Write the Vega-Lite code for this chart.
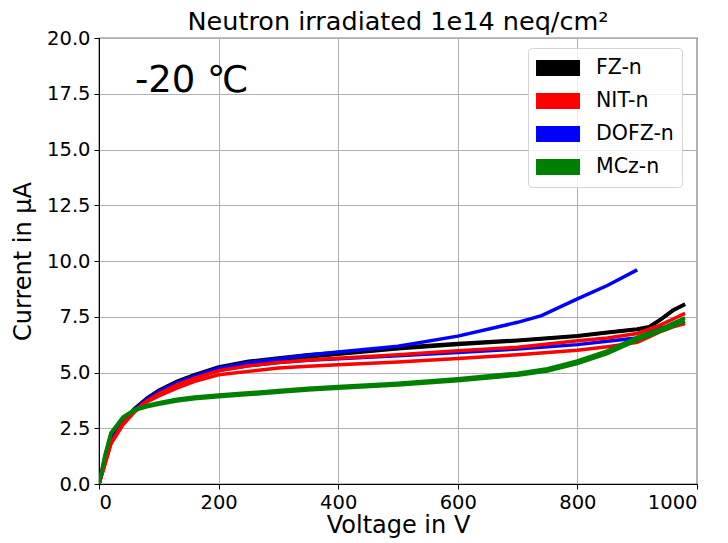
{
  "$schema": "https://vega.github.io/schema/vega-lite/v6.json",
  "width": 598,
  "height": 446,
  "autosize": {"type": "none"},
  "padding": {"left": 99, "top": 38, "right": 31, "bottom": 59},
  "background": "white",
  "config": {
    "font": "DejaVu Sans",
    "view": {"stroke": "black", "strokeWidth": 1.2},
    "axis": {
      "domainColor": "black", "tickColor": "black", "tickSize": 5, "labelPadding": 4,
      "labelFontSize": 19.5, "labelColor": "black", "titleFontSize": 24,
      "titleFontWeight": "normal", "titleColor": "black",
      "gridColor": "#b0b0b0", "gridWidth": 1, "labelFont": "DejaVu Sans", "titleFont": "DejaVu Sans"
    }
  },
  "title": {"text": "Neutron irradiated 1e14 neq/cm²", "fontSize": 25.5, "fontWeight": "normal", "font": "DejaVu Sans", "color": "black", "offset": 3, "dy": 10},
  "layer": [
    {
      "data": {"values": [
        {"s":"FZ-n","r":"FZ1","V":0,"I":0},{"s":"FZ-n","r":"FZ1","V":10,"I":1.1},{"s":"FZ-n","r":"FZ1","V":20,"I":2.0},{"s":"FZ-n","r":"FZ1","V":40,"I":2.85},{"s":"FZ-n","r":"FZ1","V":60,"I":3.4},{"s":"FZ-n","r":"FZ1","V":80,"I":3.85},{"s":"FZ-n","r":"FZ1","V":100,"I":4.2},{"s":"FZ-n","r":"FZ1","V":130,"I":4.6},{"s":"FZ-n","r":"FZ1","V":160,"I":4.9},{"s":"FZ-n","r":"FZ1","V":200,"I":5.25},{"s":"FZ-n","r":"FZ1","V":250,"I":5.5},{"s":"FZ-n","r":"FZ1","V":300,"I":5.65},{"s":"FZ-n","r":"FZ1","V":350,"I":5.8},{"s":"FZ-n","r":"FZ1","V":400,"I":5.9},{"s":"FZ-n","r":"FZ1","V":500,"I":6.12},{"s":"FZ-n","r":"FZ1","V":600,"I":6.3},{"s":"FZ-n","r":"FZ1","V":700,"I":6.45},{"s":"FZ-n","r":"FZ1","V":800,"I":6.65},{"s":"FZ-n","r":"FZ1","V":850,"I":6.8},{"s":"FZ-n","r":"FZ1","V":900,"I":6.95},{"s":"FZ-n","r":"FZ1","V":920,"I":7.05},{"s":"FZ-n","r":"FZ1","V":940,"I":7.4},{"s":"FZ-n","r":"FZ1","V":960,"I":7.8},{"s":"FZ-n","r":"FZ1","V":980,"I":8.07},
        {"s":"FZ-n","r":"FZ2","V":0,"I":0},{"s":"FZ-n","r":"FZ2","V":10,"I":1.05},{"s":"FZ-n","r":"FZ2","V":20,"I":1.95},{"s":"FZ-n","r":"FZ2","V":40,"I":2.8},{"s":"FZ-n","r":"FZ2","V":60,"I":3.35},{"s":"FZ-n","r":"FZ2","V":80,"I":3.78},{"s":"FZ-n","r":"FZ2","V":100,"I":4.12},{"s":"FZ-n","r":"FZ2","V":130,"I":4.52},{"s":"FZ-n","r":"FZ2","V":160,"I":4.82},{"s":"FZ-n","r":"FZ2","V":200,"I":5.16},{"s":"FZ-n","r":"FZ2","V":250,"I":5.4},{"s":"FZ-n","r":"FZ2","V":300,"I":5.56},{"s":"FZ-n","r":"FZ2","V":350,"I":5.7},{"s":"FZ-n","r":"FZ2","V":400,"I":5.82},{"s":"FZ-n","r":"FZ2","V":500,"I":6.06},{"s":"FZ-n","r":"FZ2","V":600,"I":6.26},{"s":"FZ-n","r":"FZ2","V":700,"I":6.42},{"s":"FZ-n","r":"FZ2","V":800,"I":6.63},{"s":"FZ-n","r":"FZ2","V":850,"I":6.78},{"s":"FZ-n","r":"FZ2","V":900,"I":6.93},{"s":"FZ-n","r":"FZ2","V":920,"I":7.03},{"s":"FZ-n","r":"FZ2","V":940,"I":7.38},{"s":"FZ-n","r":"FZ2","V":960,"I":7.78},{"s":"FZ-n","r":"FZ2","V":980,"I":8.05},
        {"s":"DOFZ-n","r":"DO1","V":0,"I":0},{"s":"DOFZ-n","r":"DO1","V":10,"I":1.0},{"s":"DOFZ-n","r":"DO1","V":20,"I":1.9},{"s":"DOFZ-n","r":"DO1","V":40,"I":2.8},{"s":"DOFZ-n","r":"DO1","V":60,"I":3.35},{"s":"DOFZ-n","r":"DO1","V":80,"I":3.8},{"s":"DOFZ-n","r":"DO1","V":100,"I":4.15},{"s":"DOFZ-n","r":"DO1","V":130,"I":4.55},{"s":"DOFZ-n","r":"DO1","V":160,"I":4.85},{"s":"DOFZ-n","r":"DO1","V":200,"I":5.2},{"s":"DOFZ-n","r":"DO1","V":250,"I":5.45},{"s":"DOFZ-n","r":"DO1","V":300,"I":5.62},{"s":"DOFZ-n","r":"DO1","V":350,"I":5.78},{"s":"DOFZ-n","r":"DO1","V":400,"I":5.92},{"s":"DOFZ-n","r":"DO1","V":500,"I":6.18},{"s":"DOFZ-n","r":"DO1","V":600,"I":6.63},{"s":"DOFZ-n","r":"DO1","V":700,"I":7.25},{"s":"DOFZ-n","r":"DO1","V":740,"I":7.55},{"s":"DOFZ-n","r":"DO1","V":800,"I":8.3},{"s":"DOFZ-n","r":"DO1","V":850,"I":8.9},{"s":"DOFZ-n","r":"DO1","V":900,"I":9.6},
        {"s":"DOFZ-n","r":"DO2","V":0,"I":0},{"s":"DOFZ-n","r":"DO2","V":10,"I":1.0},{"s":"DOFZ-n","r":"DO2","V":20,"I":1.9},{"s":"DOFZ-n","r":"DO2","V":40,"I":2.75},{"s":"DOFZ-n","r":"DO2","V":60,"I":3.3},{"s":"DOFZ-n","r":"DO2","V":80,"I":3.75},{"s":"DOFZ-n","r":"DO2","V":100,"I":4.05},{"s":"DOFZ-n","r":"DO2","V":130,"I":4.45},{"s":"DOFZ-n","r":"DO2","V":160,"I":4.75},{"s":"DOFZ-n","r":"DO2","V":200,"I":5.1},{"s":"DOFZ-n","r":"DO2","V":250,"I":5.3},{"s":"DOFZ-n","r":"DO2","V":300,"I":5.45},{"s":"DOFZ-n","r":"DO2","V":350,"I":5.55},{"s":"DOFZ-n","r":"DO2","V":400,"I":5.62},{"s":"DOFZ-n","r":"DO2","V":500,"I":5.75},{"s":"DOFZ-n","r":"DO2","V":600,"I":5.9},{"s":"DOFZ-n","r":"DO2","V":700,"I":6.05},{"s":"DOFZ-n","r":"DO2","V":800,"I":6.25},{"s":"DOFZ-n","r":"DO2","V":850,"I":6.4},{"s":"DOFZ-n","r":"DO2","V":900,"I":6.55},{"s":"DOFZ-n","r":"DO2","V":920,"I":6.8},{"s":"DOFZ-n","r":"DO2","V":940,"I":7.0},{"s":"DOFZ-n","r":"DO2","V":960,"I":7.12},{"s":"DOFZ-n","r":"DO2","V":975,"I":7.25},
        {"s":"NIT-n","r":"N1","V":0,"I":0},{"s":"NIT-n","r":"N1","V":10,"I":0.9},{"s":"NIT-n","r":"N1","V":20,"I":1.85},{"s":"NIT-n","r":"N1","V":40,"I":2.7},{"s":"NIT-n","r":"N1","V":60,"I":3.3},{"s":"NIT-n","r":"N1","V":80,"I":3.72},{"s":"NIT-n","r":"N1","V":100,"I":4.05},{"s":"NIT-n","r":"N1","V":130,"I":4.45},{"s":"NIT-n","r":"N1","V":160,"I":4.75},{"s":"NIT-n","r":"N1","V":200,"I":5.08},{"s":"NIT-n","r":"N1","V":250,"I":5.3},{"s":"NIT-n","r":"N1","V":300,"I":5.45},{"s":"NIT-n","r":"N1","V":350,"I":5.56},{"s":"NIT-n","r":"N1","V":400,"I":5.64},{"s":"NIT-n","r":"N1","V":500,"I":5.8},{"s":"NIT-n","r":"N1","V":600,"I":5.97},{"s":"NIT-n","r":"N1","V":700,"I":6.13},{"s":"NIT-n","r":"N1","V":800,"I":6.42},{"s":"NIT-n","r":"N1","V":850,"I":6.55},{"s":"NIT-n","r":"N1","V":900,"I":6.75},{"s":"NIT-n","r":"N1","V":920,"I":6.95},{"s":"NIT-n","r":"N1","V":940,"I":7.15},{"s":"NIT-n","r":"N1","V":960,"I":7.4},{"s":"NIT-n","r":"N1","V":980,"I":7.65},
        {"s":"NIT-n","r":"N2","V":0,"I":0},{"s":"NIT-n","r":"N2","V":10,"I":0.9},{"s":"NIT-n","r":"N2","V":20,"I":1.8},{"s":"NIT-n","r":"N2","V":40,"I":2.65},{"s":"NIT-n","r":"N2","V":60,"I":3.25},{"s":"NIT-n","r":"N2","V":80,"I":3.68},{"s":"NIT-n","r":"N2","V":100,"I":3.95},{"s":"NIT-n","r":"N2","V":130,"I":4.3},{"s":"NIT-n","r":"N2","V":160,"I":4.6},{"s":"NIT-n","r":"N2","V":200,"I":4.9},{"s":"NIT-n","r":"N2","V":250,"I":5.05},{"s":"NIT-n","r":"N2","V":300,"I":5.2},{"s":"NIT-n","r":"N2","V":350,"I":5.28},{"s":"NIT-n","r":"N2","V":400,"I":5.35},{"s":"NIT-n","r":"N2","V":500,"I":5.47},{"s":"NIT-n","r":"N2","V":600,"I":5.63},{"s":"NIT-n","r":"N2","V":700,"I":5.8},{"s":"NIT-n","r":"N2","V":800,"I":6.0},{"s":"NIT-n","r":"N2","V":850,"I":6.15},{"s":"NIT-n","r":"N2","V":900,"I":6.35},{"s":"NIT-n","r":"N2","V":920,"I":6.6},{"s":"NIT-n","r":"N2","V":940,"I":6.85},{"s":"NIT-n","r":"N2","V":960,"I":7.05},{"s":"NIT-n","r":"N2","V":980,"I":7.2},
        {"s":"MCz-n","r":"M1","V":0,"I":0},{"s":"MCz-n","r":"M1","V":10,"I":1.3},{"s":"MCz-n","r":"M1","V":20,"I":2.3},{"s":"MCz-n","r":"M1","V":40,"I":3.0},{"s":"MCz-n","r":"M1","V":60,"I":3.35},{"s":"MCz-n","r":"M1","V":80,"I":3.52},{"s":"MCz-n","r":"M1","V":100,"I":3.64},{"s":"MCz-n","r":"M1","V":130,"I":3.8},{"s":"MCz-n","r":"M1","V":160,"I":3.9},{"s":"MCz-n","r":"M1","V":200,"I":3.99},{"s":"MCz-n","r":"M1","V":250,"I":4.09},{"s":"MCz-n","r":"M1","V":300,"I":4.19},{"s":"MCz-n","r":"M1","V":350,"I":4.29},{"s":"MCz-n","r":"M1","V":400,"I":4.37},{"s":"MCz-n","r":"M1","V":500,"I":4.52},{"s":"MCz-n","r":"M1","V":600,"I":4.72},{"s":"MCz-n","r":"M1","V":700,"I":4.97},{"s":"MCz-n","r":"M1","V":750,"I":5.17},{"s":"MCz-n","r":"M1","V":800,"I":5.52},{"s":"MCz-n","r":"M1","V":850,"I":5.97},{"s":"MCz-n","r":"M1","V":900,"I":6.57},{"s":"MCz-n","r":"M1","V":940,"I":6.97},{"s":"MCz-n","r":"M1","V":960,"I":7.22},{"s":"MCz-n","r":"M1","V":980,"I":7.45},
        {"s":"MCz-n","r":"M2","V":0,"I":0},{"s":"MCz-n","r":"M2","V":10,"I":1.25},{"s":"MCz-n","r":"M2","V":20,"I":2.25},{"s":"MCz-n","r":"M2","V":40,"I":2.95},{"s":"MCz-n","r":"M2","V":60,"I":3.3},{"s":"MCz-n","r":"M2","V":80,"I":3.46},{"s":"MCz-n","r":"M2","V":100,"I":3.57},{"s":"MCz-n","r":"M2","V":130,"I":3.72},{"s":"MCz-n","r":"M2","V":160,"I":3.82},{"s":"MCz-n","r":"M2","V":200,"I":3.91},{"s":"MCz-n","r":"M2","V":250,"I":4.01},{"s":"MCz-n","r":"M2","V":300,"I":4.11},{"s":"MCz-n","r":"M2","V":350,"I":4.21},{"s":"MCz-n","r":"M2","V":400,"I":4.29},{"s":"MCz-n","r":"M2","V":500,"I":4.44},{"s":"MCz-n","r":"M2","V":600,"I":4.63},{"s":"MCz-n","r":"M2","V":700,"I":4.88},{"s":"MCz-n","r":"M2","V":750,"I":5.07},{"s":"MCz-n","r":"M2","V":800,"I":5.4},{"s":"MCz-n","r":"M2","V":850,"I":5.85},{"s":"MCz-n","r":"M2","V":900,"I":6.45},{"s":"MCz-n","r":"M2","V":940,"I":6.85},{"s":"MCz-n","r":"M2","V":960,"I":7.08},{"s":"MCz-n","r":"M2","V":980,"I":7.3}
      ]},
      "mark": {"type": "line", "strokeWidth": 3.5, "clip": true},
      "encoding": {
        "x": {"field": "V", "type": "quantitative", "scale": {"domain": [0, 1000], "nice": false}, "axis": {"title": "Voltage in V", "values": [0,200,400,600,800,1000], "format": "d", "grid": true, "titlePadding": 2}},
        "y": {"field": "I", "type": "quantitative", "scale": {"domain": [0, 20], "nice": false}, "axis": {"title": "Current in µA", "values": [0,2.5,5,7.5,10,12.5,15,17.5,20], "format": ".1f", "grid": true, "titlePadding": 11}},
        "color": {"field": "s", "type": "nominal", "sort": null,
          "scale": {"domain": ["FZ-n","NIT-n","DOFZ-n","MCz-n"], "range": ["#000000","#ff0000","#0000ff","#008000"]},
          "legend": {"title": null, "orient": "none", "legendX": 429, "legendY": 10, "symbolType": "M-2.45,0H5.55", "symbolStrokeWidth": 16, "symbolSize": 121, "clipHeight": 24, "labelFontSize": 20.5, "labelFont": "DejaVu Sans", "labelColor": "black", "rowPadding": 9, "labelOffset": 33, "strokeColor": "#d4d4d4", "fillColor": "rgba(255,255,255,0.8)", "padding": 8, "cornerRadius": 4, "symbolOpacity": 1}},
        "detail": {"field": "r", "type": "nominal"},
        "order": {"field": "V", "type": "quantitative"}
      }
    },
    {
      "data": {"values": [{"x": 60, "y": 18.07, "label": "-20 ℃"}]},
      "mark": {"type": "text", "align": "left", "baseline": "middle", "fontSize": 37, "font": "DejaVu Sans", "color": "black"},
      "encoding": {
        "x": {"field": "x", "type": "quantitative"},
        "y": {"field": "y", "type": "quantitative"},
        "text": {"field": "label"}
      }
    }
  ]
}
